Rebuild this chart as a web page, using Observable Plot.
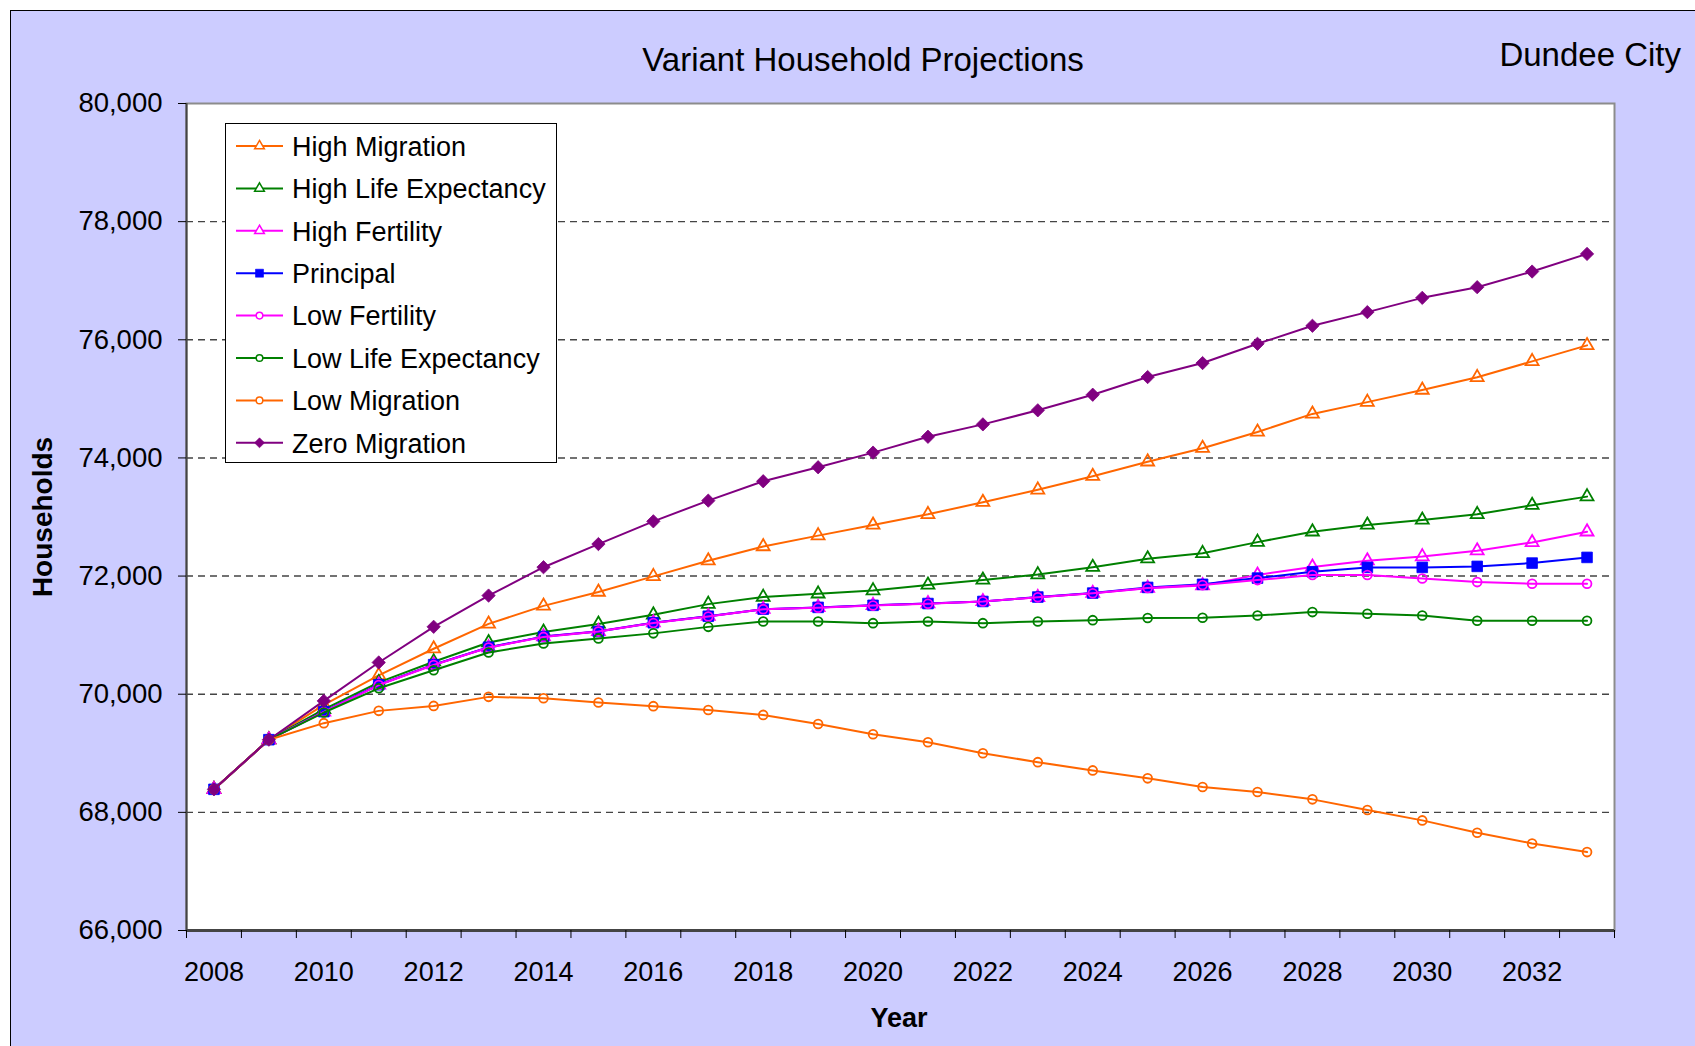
<!DOCTYPE html>
<html><head><meta charset="utf-8">
<script src="https://cdn.jsdelivr.net/npm/d3@7"></script>
<script src="https://cdn.jsdelivr.net/npm/@observablehq/plot@0.6"></script>
<style>
html,body{margin:0;padding:0;background:#fff;width:1695px;height:1046px;overflow:hidden;font-family:"Liberation Sans",Arial,sans-serif;}
#bg{position:absolute;left:10px;top:10px;width:1685px;height:1036px;background:#CCCCFF;border-left:1px solid #000;border-top:1px solid #000;box-sizing:border-box;}
#chart{position:absolute;left:0;top:0;}
.t{position:absolute;white-space:nowrap;line-height:1;color:#000;}
#legend{position:absolute;left:225px;top:123px;width:332px;height:340px;background:#fff;border:1px solid #000;box-sizing:border-box;}
</style></head><body>
<div id="bg"></div>
<div id="chart"></div>
<div class="t" id="title" style="left:863px;top:43px;font-size:33px;transform:translateX(-50%);">Variant Household Projections</div>
<div class="t" id="place" style="right:14px;top:38px;font-size:33px;">Dundee City</div>
<div class="t" id="ylab" style="left:43px;top:517px;font-size:28px;font-weight:bold;transform:translate(-50%,-50%) rotate(-90deg);">Households</div>
<div class="t" id="xlab" style="left:899px;top:1005px;font-size:27px;font-weight:bold;transform:translateX(-50%);">Year</div>
<div id="legend"></div>
<script>
const years = [2008,2009,2010,2011,2012,2013,2014,2015,2016,2017,2018,2019,2020,2021,2022,2023,2024,2025,2026,2027,2028,2029,2030,2031,2032,2033];
const xLabelYears = [2008,2010,2012,2014,2016,2018,2020,2022,2024,2026,2028,2030,2032];
const yTicks = [66000,68000,70000,72000,74000,76000,78000,80000];
const gridValues = [68000,70000,72000,74000,76000,78000];

const highMigration = [68390,69230,69820,70320,70770,71190,71495,71730,71995,72260,72500,72685,72865,73045,73250,73460,73690,73935,74165,74440,74745,74945,75150,75365,75635,75905];
const highLifeExpectancy = [68390,69230,69745,70200,70550,70875,71055,71190,71345,71525,71645,71700,71755,71850,71935,72025,72150,72295,72385,72575,72750,72865,72950,73045,73200,73345];
const highFertility = [68390,69230,69700,70160,70500,70790,70975,71065,71210,71320,71440,71470,71505,71535,71570,71640,71710,71795,71840,72020,72155,72260,72330,72430,72570,72750];
const principal = [68390,69230,69705,70160,70500,70795,70975,71060,71210,71320,71440,71470,71505,71535,71570,71645,71712,71808,71860,71966,72073,72147,72147,72164,72220,72316];
const lowFertility = [68390,69230,69700,70155,70495,70790,70970,71060,71205,71315,71440,71465,71500,71530,71570,71640,71710,71800,71847,71932,72017,72017,71960,71898,71870,71870];
const lowLifeExpectancy = [68390,69230,69690,70100,70405,70705,70860,70945,71030,71140,71232,71232,71203,71232,71203,71232,71254,71290,71295,71333,71390,71362,71333,71243,71243,71243];
const lowMigration = [68390,69230,69510,69718,69802,69955,69932,69860,69798,69734,69650,69497,69322,69186,69000,68850,68710,68576,68429,68344,68220,68039,67864,67655,67474,67327];
const zeroMigration = [68390,69230,69887,70537,71141,71670,72150,72542,72927,73277,73605,73842,74090,74358,74568,74806,75070,75369,75606,75932,76237,76468,76710,76890,77155,77454];

const seriesNames = ["High Migration","High Life Expectancy","High Fertility","Principal","Low Fertility","Low Life Expectancy","Low Migration","Zero Migration"];
const seriesValues = [highMigration,highLifeExpectancy,highFertility,principal,lowFertility,lowLifeExpectancy,lowMigration,zeroMigration];
const seriesColors = ["#FF6600","#008000","#FF00FF","#0000FF","#FF00FF","#008000","#FF6600","#800080"];
const seriesSymbols = ["triangle","triangle","triangle","square","circle","circle","circle","diamond2"];
const seriesFilled = [false,false,false,true,false,false,false,true];
const symbolR = {triangle:4.8, square:6.0, circle:4.4, diamond2:6.0};

const font = "Liberation Sans, Arial, sans-serif";
const xBoundaries = years.map(y => y - 0.5).concat([years[years.length-1] + 0.5]);

const seriesMarks = seriesNames.flatMap((name, k) => {
  const rows = years.map((yr, i) => ({series: name, year: yr, value: seriesValues[k][i]}));
  return [
    Plot.line(rows, {x: "year", y: "value", stroke: seriesColors[k], strokeWidth: 2}),
    Plot.dot(rows, {x: "year", y: "value", symbol: seriesSymbols[k], r: symbolR[seriesSymbols[k]],
      fill: seriesFilled[k] ? seriesColors[k] : "none",
      stroke: seriesColors[k], strokeWidth: seriesFilled[k] ? 0.8 : 1.8})
  ];
});

const chart = Plot.plot({
  width: 1695, height: 1046,
  marginLeft: 186, marginRight: 81, marginTop: 103, marginBottom: 116,
  style: {background: "transparent", fontFamily: font, fontSize: "27px", color: "#000", overflow: "visible"},
  x: {domain: [2007.5, 2033.5]},
  y: {domain: [66000, 80000]},
  marks: [
    Plot.frame({fill: "white", stroke: "#8c8c8c", strokeWidth: 2}),
    Plot.ruleY(gridValues, {stroke: "#444", strokeWidth: 1.4, strokeDasharray: "7,5"}),
    Plot.ruleX([2007.5], {stroke: "#444", strokeWidth: 2}),
    Plot.ruleY([66000], {stroke: "#444", strokeWidth: 3}),
    Plot.axisY(yTicks, {tickSize: 8, tickPadding: 16, tickFormat: d3.format(","), label: null, fontSize: 27.5, stroke: "#000"}),
    Plot.axisX(xBoundaries, {tickSize: 8, fill: "none", label: null, stroke: "#000"}),
    Plot.axisX(xLabelYears, {tickSize: 0, tickPadding: 31, tickFormat: d => String(d), label: null, fontSize: 27}),
    ...seriesMarks
  ]
});
document.getElementById("chart").appendChild(chart);

// legend
const lg = d3.select("#legend").append("svg").attr("width", 332).attr("height", 340)
  .style("position","absolute").style("left","-1px").style("top","-1px").style("overflow","visible");
const symMap = {triangle: d3.symbolTriangle, square: d3.symbolSquare, circle: d3.symbolCircle, diamond2: d3.symbolDiamond2};
seriesNames.forEach((name, k) => {
  const cy = 23 + k * 42.4;
  lg.append("line").attr("x1", 11).attr("x2", 58).attr("y1", cy).attr("y2", cy)
    .attr("stroke", seriesColors[k]).attr("stroke-width", 2);
  const rr = symbolR[seriesSymbols[k]] * 0.75;
  lg.append("path").attr("transform", `translate(34.5,${cy})`)
    .attr("d", d3.symbol(symMap[seriesSymbols[k]], Math.PI * rr * rr)())
    .attr("fill", seriesFilled[k] ? seriesColors[k] : "white")
    .attr("stroke", seriesColors[k]).attr("stroke-width", seriesFilled[k] ? 0.6 : 1.5);
  lg.append("text").attr("x", 67).attr("y", cy).attr("dy", "0.36em")
    .attr("font-family", font).attr("font-size", 27).attr("fill", "#000").text(name);
});
</script>
</body></html>
